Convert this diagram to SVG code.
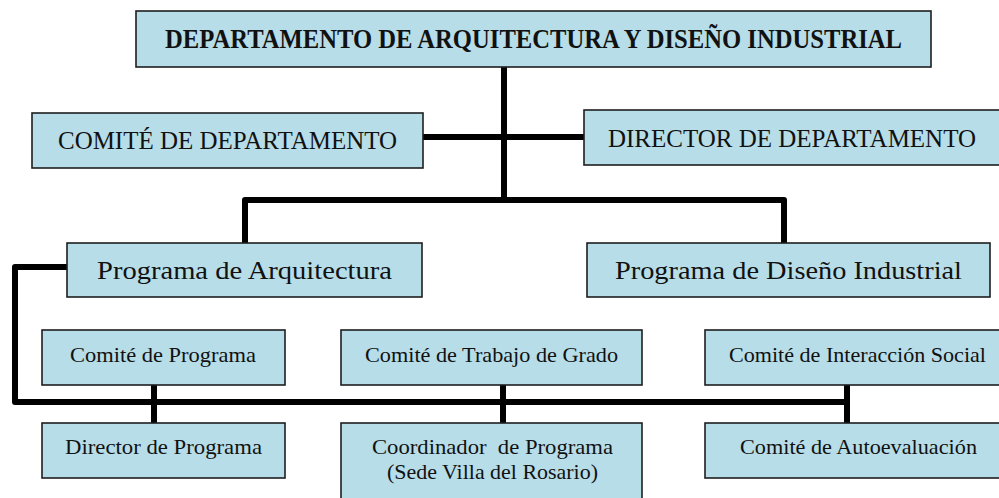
<svg xmlns="http://www.w3.org/2000/svg" width="999" height="498" viewBox="0 0 999 498">
<style>
.box{fill:#b7dde8;stroke:#1e1e1e;stroke-width:1.6}
.t{font-family:"Liberation Serif","Times New Roman",serif;fill:#111;text-anchor:middle}
.b{font-weight:bold;font-size:27px}
.l{font-size:26px}
.m{font-size:25px}
.s{font-size:22px}
.c{fill:none;stroke:#000;stroke-width:6;stroke-linejoin:round}
</style>
<rect width="999" height="498" fill="#fff"/>
<g id="connectors">
<path class="c" d="M504,67 V200"/>
<path class="c" d="M423,137 H584"/>
<path class="c" d="M245,243 V200 H784 V243"/>
<path class="c" d="M67,267 H15 V402 H847"/>
<path class="c" d="M154,385 V423"/>
<path class="c" d="M503,385 V423"/>
<path class="c" d="M847,385 V423"/>
</g>
<g id="departamento">
<rect class="box" x="136" y="11" width="795" height="56"/>
<text class="t b" x="533.5" y="48" textLength="737" lengthAdjust="spacingAndGlyphs">DEPARTAMENTO DE ARQUITECTURA Y DISEÑO INDUSTRIAL</text>
</g>
<g id="comite-departamento">
<rect class="box" x="32" y="113" width="391" height="55"/>
<text class="t l" x="227.5" y="149" textLength="339" lengthAdjust="spacingAndGlyphs">COMITÉ DE DEPARTAMENTO</text>
</g>
<g id="director-departamento">
<rect class="box" x="584" y="110" width="420" height="55"/>
<text class="t l" x="792" y="147" textLength="368" lengthAdjust="spacingAndGlyphs">DIRECTOR DE DEPARTAMENTO</text>
</g>
<g id="programa-arquitectura">
<rect class="box" x="67" y="243" width="355" height="54"/>
<text class="t m" x="244.5" y="279" textLength="295" lengthAdjust="spacingAndGlyphs">Programa de Arquitectura</text>
</g>
<g id="programa-diseno">
<rect class="box" x="587" y="243" width="403" height="54"/>
<text class="t m" x="788.5" y="279" textLength="347" lengthAdjust="spacingAndGlyphs">Programa de Diseño Industrial</text>
</g>
<g id="comite-programa">
<rect class="box" x="42" y="330" width="243" height="55"/>
<text class="t s" x="163" y="362" textLength="186" lengthAdjust="spacingAndGlyphs">Comité de Programa</text>
</g>
<g id="comite-trabajo-grado">
<rect class="box" x="341" y="330" width="301" height="55"/>
<text class="t s" x="491.5" y="362" textLength="253" lengthAdjust="spacingAndGlyphs">Comité de Trabajo de Grado</text>
</g>
<g id="comite-interaccion-social">
<rect class="box" x="705" y="330" width="300" height="55"/>
<text class="t s" x="857.5" y="362" textLength="257" lengthAdjust="spacingAndGlyphs">Comité de Interacción Social</text>
</g>
<g id="director-programa">
<rect class="box" x="42" y="423" width="243" height="55"/>
<text class="t s" x="163.5" y="454" textLength="197" lengthAdjust="spacingAndGlyphs">Director de Programa</text>
</g>
<g id="coordinador-programa">
<rect class="box" x="341" y="423" width="301" height="80"/>
<text class="t s" x="492.5" y="454" textLength="241" lengthAdjust="spacingAndGlyphs" xml:space="preserve">Coordinador  de Programa</text>
<text class="t s" x="492.5" y="479" textLength="211" lengthAdjust="spacingAndGlyphs">(Sede Villa del Rosario)</text>
</g>
<g id="comite-autoevaluacion">
<rect class="box" x="705" y="423" width="300" height="55"/>
<text class="t s" x="858.5" y="454" textLength="237" lengthAdjust="spacingAndGlyphs">Comité de Autoevaluación</text>
</g>
</svg>
